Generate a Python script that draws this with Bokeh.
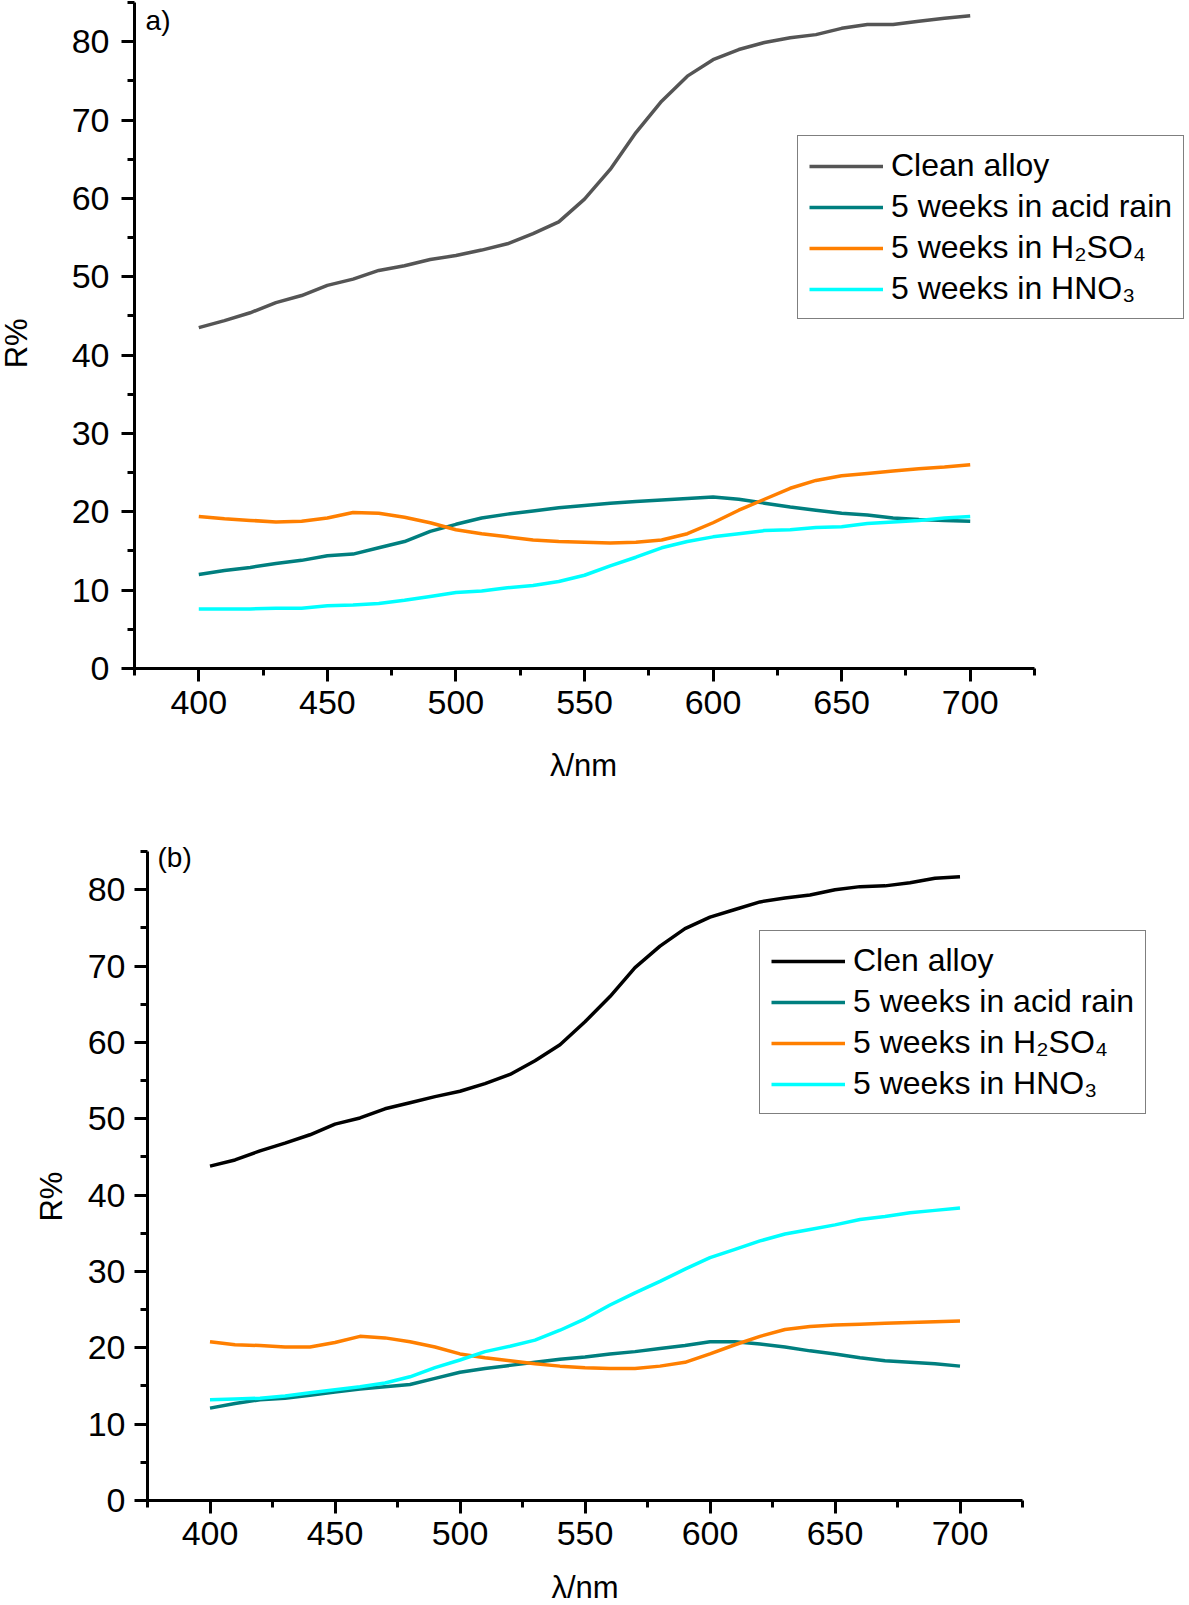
import math
from bokeh.plotting import figure
from bokeh.models import Legend, LegendItem, SingleIntervalTicker, Label, Range1d
from bokeh.layouts import column
from bokeh.embed import file_html
from bokeh.resources import INLINE

FONT = "Liberation Sans"

wavelength = [400, 410, 420, 430, 440, 450, 460, 470, 480, 490, 500, 510, 520, 530, 540, 550,
              560, 570, 580, 590, 600, 610, 620, 630, 640, 650, 660, 670, 680, 690, 700]

# Panel a
a_clean = [43.5, 44.4, 45.4, 46.7, 47.6, 48.9, 49.7, 50.8, 51.4, 52.2, 52.7, 53.4, 54.2, 55.5, 57.0, 59.9,
           63.7, 68.4, 72.4, 75.6, 77.7, 79.0, 79.9, 80.5, 80.9, 81.7, 82.2, 82.2, 82.6, 83.0, 83.3]
a_acid = [12.0, 12.5, 12.9, 13.4, 13.8, 14.4, 14.6, 15.4, 16.2, 17.5, 18.4, 19.2, 19.7, 20.1, 20.5, 20.8,
          21.1, 21.3, 21.5, 21.7, 21.9, 21.6, 21.1, 20.6, 20.2, 19.8, 19.6, 19.2, 19.0, 18.9, 18.8]
a_h2so4 = [19.4, 19.1, 18.9, 18.7, 18.8, 19.2, 19.9, 19.8, 19.3, 18.6, 17.7, 17.2, 16.8, 16.4, 16.2, 16.1,
           16.0, 16.1, 16.4, 17.2, 18.6, 20.2, 21.6, 23.0, 24.0, 24.6, 24.9, 25.2, 25.5, 25.7, 26.0]
a_hno3 = [7.6, 7.6, 7.6, 7.7, 7.7, 8.0, 8.1, 8.3, 8.7, 9.2, 9.7, 9.9, 10.3, 10.6, 11.1, 11.9,
          13.1, 14.2, 15.4, 16.2, 16.8, 17.2, 17.6, 17.7, 18.0, 18.1, 18.5, 18.7, 18.9, 19.2, 19.4]

# Panel b
b_clean = [43.8, 44.6, 45.8, 46.8, 47.9, 49.3, 50.1, 51.3, 52.1, 52.9, 53.6, 54.6, 55.8, 57.6, 59.7, 62.7,
           66.0, 69.8, 72.6, 74.9, 76.4, 77.4, 78.4, 78.9, 79.3, 80.0, 80.4, 80.5, 80.9, 81.5, 81.7]
b_acid = [12.1, 12.7, 13.2, 13.4, 13.8, 14.2, 14.6, 14.9, 15.2, 16.0, 16.8, 17.3, 17.7, 18.1, 18.5, 18.8,
          19.2, 19.5, 19.9, 20.3, 20.8, 20.8, 20.5, 20.1, 19.6, 19.2, 18.7, 18.3, 18.1, 17.9, 17.6]
b_h2so4 = [20.8, 20.4, 20.3, 20.1, 20.1, 20.7, 21.5, 21.3, 20.8, 20.1, 19.2, 18.7, 18.3, 17.9, 17.6, 17.4,
           17.3, 17.3, 17.6, 18.1, 19.2, 20.4, 21.5, 22.4, 22.8, 23.0, 23.1, 23.2, 23.3, 23.4, 23.5]
b_hno3 = [13.2, 13.3, 13.4, 13.7, 14.1, 14.5, 14.9, 15.4, 16.2, 17.4, 18.4, 19.5, 20.2, 21.0, 22.3, 23.8,
          25.6, 27.2, 28.7, 30.3, 31.8, 32.9, 34.0, 34.9, 35.5, 36.1, 36.8, 37.2, 37.7, 38.0, 38.3]

labels_a = ["Clean alloy", "5 weeks in acid rain", "5 weeks in H\u2082SO\u2084", "5 weeks in HNO\u2083"]
labels_b = ["Clen alloy", "5 weeks in acid rain", "5 weeks in H\u2082SO\u2084", "5 weeks in HNO\u2083"]
colors_a = ["#555555", "#007F7F", "#FF7F00", "#00FFFF"]
colors_b = ["#000000", "#007F7F", "#FF7F00", "#00FFFF"]

X_BOUNDS = (375, 725)
Y_BOUNDS = (0, 85)


def make_panel(series, labels, colors, width, height, xr, yr, leg_x, leg_y,
               tag, tag_xy, ylab_xy, xlab_xy, ystand, xstand):
    p = figure(width=width, height=height, output_backend="svg", toolbar_location=None,
               x_range=Range1d(*xr), y_range=Range1d(*yr),
               min_border_left=0, min_border_right=0, min_border_top=0, min_border_bottom=0)
    p.xgrid.visible = False
    p.ygrid.visible = False
    p.outline_line_color = None
    p.background_fill_color = "white"
    p.border_fill_color = "white"

    p.xaxis.ticker = SingleIntervalTicker(interval=50, num_minor_ticks=2)
    p.yaxis.ticker = SingleIntervalTicker(interval=10, num_minor_ticks=2)
    p.xaxis.fixed_location = 0
    p.yaxis.fixed_location = X_BOUNDS[0]
    p.xaxis.bounds = X_BOUNDS
    p.yaxis.bounds = Y_BOUNDS
    for ax in (p.xaxis[0], p.yaxis[0]):
        ax.axis_line_width = 3
        ax.axis_line_color = "black"
        ax.major_tick_line_width = 3
        ax.minor_tick_line_width = 3
        ax.major_tick_line_color = "black"
        ax.minor_tick_line_color = "black"
        ax.major_tick_in = 0
        ax.major_tick_out = 13
        ax.minor_tick_in = 0
        ax.minor_tick_out = 7
        ax.major_label_text_font = FONT
        ax.major_label_text_font_size = "34px"
        ax.major_label_text_color = "black"
    p.yaxis.major_label_standoff = ystand
    p.xaxis.major_label_standoff = xstand

    items = []
    for ys, lab, col in zip(series, labels, colors):
        r = p.line(wavelength, ys, line_color=col, line_width=3.5)
        items.append(LegendItem(label=lab, renderers=[r]))

    leg = Legend(items=items, location=(leg_x, leg_y))
    leg.label_text_font = FONT
    leg.label_text_font_size = "32px"
    leg.label_text_color = "black"
    leg.label_height = 36
    leg.glyph_height = 36
    leg.glyph_width = 74
    leg.label_standoff = 8
    leg.spacing = 4
    leg.padding = 11
    leg.margin = 0
    leg.border_line_color = "black"
    leg.border_line_width = 1.5
    leg.background_fill_color = "white"
    leg.background_fill_alpha = 1.0
    p.add_layout(leg, "center")

    p.add_layout(Label(x=tag_xy[0], y=tag_xy[1], text=tag, text_font=FONT, text_font_size="28px",
                       text_baseline="top", text_color="black"))
    p.add_layout(Label(x=ylab_xy[0], y=ylab_xy[1], text="R%", text_font=FONT, text_font_size="31px",
                       text_align="center", text_baseline="middle", angle=math.pi / 2,
                       text_color="black"))
    p.add_layout(Label(x=xlab_xy[0], y=xlab_xy[1], text="\u03bb/nm", text_font=FONT,
                       text_font_size="31px", text_align="center", text_baseline="middle",
                       text_color="black"))
    return p


p1 = make_panel([a_clean, a_acid, a_h2so4, a_hno3], labels_a, colors_a,
                width=1189, height=800, xr=(322.89, 785.28), yr=(-16.85, 85.255),
                leg_x=797, leg_y=481, tag="a)", tag_xy=(379.3, 84.7),
                ylab_xy=(329.0, 41.5), xlab_xy=(549.6, -12.4), ystand=12, xstand=10)
p2 = make_panel([b_clean, b_acid, b_h2so4, b_hno3], labels_b, colors_b,
                width=1189, height=805, xr=(316.2, 791.8), yr=(-13.75, 91.68),
                leg_x=759, leg_y=491, tag="(b)", tag_xy=(379, 86.3),
                ylab_xy=(336.6, 39.8), xlab_xy=(550, -11.4), ystand=9, xstand=8)

layout = column(p1, p2, spacing=0)
open("out.html", "w").write(file_html(layout, INLINE))
